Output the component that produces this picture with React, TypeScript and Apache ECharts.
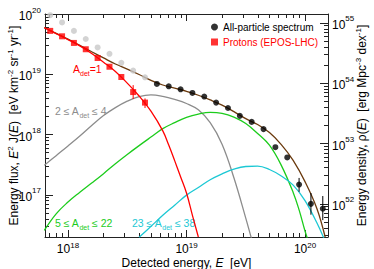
import React, { useEffect, useRef } from 'react';
import * as echarts from 'echarts';

const FONT = '"Liberation Sans", Arial, Helvetica, sans-serif';
const AX = '#222';

// ---- axis ranges (log10 values) ----
const X_MIN = 17.806;
const X_MAX = 20.194;
const Y_MIN = 16.3;
const Y_MAX = 20.0;
const R_MIN = 51.451;
const R_MAX = 55.149;

const xMajor = [18, 19, 20];
const yMajor = [17, 18, 19, 20];
const rMajor = [52, 53, 54, 55];

// ---- data: lg(E/eV) and lg(E^2 J / eV km^-2 sr^-1 yr^-1) ----
const allLgE = [18.75, 18.85, 18.95, 19.05, 19.15, 19.25, 19.35, 19.45, 19.55, 19.65, 19.75, 19.85, 19.95, 20.05, 20.15];
const allLgFlux = [18.84, 18.8, 18.75, 18.69, 18.63, 18.53, 18.44, 18.31, 18.21, 18.09, 17.79, 17.62, 17.17, 16.85, 16.77];
const allErrLgE = [19.95, 20.05, 20.15];
const allErrLo = [17.05, 16.67, 16.58];
const allErrHi = [17.28, 17.03, 16.98];

const lowLgE = [17.85, 17.95, 18.05, 18.15, 18.25, 18.35, 18.45, 18.55, 18.65];
const lowLgFlux = [19.98, 19.86, 19.72, 19.585, 19.445, 19.34, 19.19, 19.06, 18.95];

const protonLgE = [17.85, 17.95, 18.05, 18.15, 18.25, 18.35, 18.45, 18.55, 18.65];
const protonLgFlux = [19.72, 19.63, 19.52, 19.415, 19.27, 19.125, 18.955, 18.705, 18.53];
const protonErrLgE = [18.55, 18.65];
const protonErrLo = [18.59, 18.44];
const protonErrHi = [18.82, 18.6];

// fitted curves
const protonCurveLgE = [17.8, 17.9, 18.0, 18.1, 18.2, 18.3, 18.4, 18.5, 18.6, 18.7, 18.8, 18.85, 18.9, 18.95, 19.0, 19.05, 19.1];
const protonCurveLgFlux = [19.775, 19.675, 19.576, 19.471, 19.346, 19.201, 19.047, 18.853, 18.64, 18.387, 18.06, 17.825, 17.567, 17.3, 17.03, 16.66, 16.3];

const heCurveLgE = [17.8, 17.9, 18.0, 18.1, 18.2, 18.3, 18.4, 18.5, 18.6, 18.7, 18.8, 18.9, 19.0, 19.1, 19.2, 19.3, 19.4, 19.5, 19.55];
const heCurveLgFlux = [17.49, 17.65, 17.81, 17.975, 18.15, 18.315, 18.447, 18.554, 18.629, 18.657, 18.633, 18.583, 18.515, 18.41, 18.196, 17.84, 17.283, 16.614, 16.26];

const cnoCurveLgE = [17.8, 17.9, 18.0, 18.1, 18.2, 18.3, 18.4, 18.5, 18.6, 18.7, 18.8, 18.9, 19.0, 19.1, 19.2, 19.3, 19.4, 19.5, 19.6, 19.7, 19.8, 19.9, 19.95, 20.0, 20.03];
const cnoCurveLgFlux = [16.41, 16.685, 16.88, 17.042, 17.195, 17.351, 17.515, 17.669, 17.816, 17.958, 18.098, 18.198, 18.285, 18.34, 18.368, 18.352, 18.29, 18.183, 18.018, 17.823, 17.489, 17.04, 16.75, 16.4, 16.22];

const siCurveLgE = [18.6, 18.7, 18.8, 18.9, 19.0, 19.1, 19.2, 19.3, 19.4, 19.5, 19.6, 19.7, 19.8, 19.9, 20.0, 20.1, 20.17];
const siCurveLgFlux = [16.295, 16.476, 16.66, 16.827, 16.995, 17.122, 17.25, 17.347, 17.427, 17.47, 17.475, 17.42, 17.312, 17.161, 16.905, 16.535, 16.23];

const totalCurveLgE = [17.8, 17.9, 18.0, 18.1, 18.2, 18.3, 18.4, 18.5, 18.6, 18.7, 18.8, 18.9, 19.0, 19.1, 19.2, 19.3, 19.4, 19.5, 19.6, 19.7, 19.8, 19.9, 20.0, 20.1, 20.17];
const totalCurveLgFlux = [19.775, 19.679, 19.584, 19.48, 19.374, 19.271, 19.171, 19.086, 18.996, 18.899, 18.822, 18.77, 18.718, 18.652, 18.574, 18.487, 18.38, 18.264, 18.166, 18.032, 17.833, 17.572, 17.219, 16.774, 16.3];

const zip = (a: number[], b: number[]) => a.map((v, i) => [v, b[i]]);
const zip3 = (a: number[], b: number[], c: number[]) => a.map((v, i) => [v, b[i], c[i]]);

function minorTicks(lo: number, hi: number): number[] {
  const out: number[] = [];
  for (let n = Math.floor(lo); n <= Math.ceil(hi); n++) {
    for (let k = 2; k <= 9; k++) {
      const v = n + Math.log10(k);
      if (v > lo && v < hi) out.push(v);
    }
  }
  return out;
}

const supRichY = {
  b: { fontSize: 12, lineHeight: 16, verticalAlign: 'bottom', fontFamily: FONT, color: '#000' },
  s: { fontSize: 8, lineHeight: 8, verticalAlign: 'top', fontFamily: FONT, color: '#000' },
};
const supRichX = {
  b: { fontSize: 12, lineHeight: 14, verticalAlign: 'bottom', fontFamily: FONT, color: '#000' },
  s: { fontSize: 8, lineHeight: 8, verticalAlign: 'top', fontFamily: FONT, color: '#000' },
};
const pow = (v: number) => `{b|10}{s|${Math.round(v)}}`;

const nameRich = {
  n: { fontSize: 12, lineHeight: 14, verticalAlign: 'bottom', fontFamily: FONT, color: '#000' },
  i: { fontSize: 12, lineHeight: 14, verticalAlign: 'bottom', fontFamily: FONT, fontStyle: 'italic', color: '#000' },
  s: { fontSize: 8, lineHeight: 8, verticalAlign: 'top', fontFamily: FONT, color: '#000' },
};

function mkX(gridIndex: number, position: string, ticks: number[], len: number, labels: number[] | null, extra: any = {}) {
  return {
    type: 'value', gridIndex, position, min: X_MIN, max: X_MAX,
    axisLine: { show: true, lineStyle: { color: AX, width: 1 } },
    axisTick: { show: true, inside: true, length: len, customValues: ticks, lineStyle: { color: AX, width: 1 } },
    axisLabel: labels ? { show: true, customValues: labels, formatter: pow, rich: supRichX, margin: 4 } : { show: false },
    splitLine: { show: false },
    ...extra,
  };
}
function mkY(gridIndex: number, position: string, min: number, max: number, ticks: number[], len: number, labels: number[] | null, extra: any = {}) {
  return {
    type: 'value', gridIndex, position, min, max,
    axisLine: { show: true, lineStyle: { color: AX, width: 1 } },
    axisTick: { show: true, inside: true, length: len, customValues: ticks, lineStyle: { color: AX, width: 1 } },
    axisLabel: labels ? { show: true, customValues: labels, formatter: pow, rich: supRichY, margin: 4 } : { show: false },
    splitLine: { show: false },
    ...extra,
  };
}

const RED = '#ff0000';
const GRAY = '#8c8c8c';
const GREEN = '#1ccc1c';
const CYAN = '#1cc8d4';
const BROWN = '#6b3a0e';

function labelRich(color: string) {
  return {
    a: { fontSize: 10.5, lineHeight: 14, verticalAlign: 'top', fontFamily: FONT, fill: color },
    d: { fontSize: 7, lineHeight: 6, verticalAlign: 'bottom', fontFamily: FONT, fill: color },
  };
}

export default function App() {
  const ref = useRef<HTMLDivElement>(null);
  useEffect(() => {
    document.body.style.margin = '0';
    const chart = echarts.init(ref.current!, undefined, { renderer: 'svg' });
    const grid = { left: 45, right: 46, top: 14, bottom: 32, containLabel: false, outerBoundsMode: 'none' };
    const line = (data: number[][], color: string, z = 2) => ({
      type: 'line', data, xAxisIndex: 0, yAxisIndex: 0, smooth: 0.4, symbol: 'none', showSymbol: false,
      lineStyle: { color, width: 1.3 }, z, silent: true, clip: true,
    });
    const errBars = (data: number[][], color: string) => ({
      type: 'custom', xAxisIndex: 0, yAxisIndex: 0, data, z: 4, silent: true,
      encode: { x: 0, y: [1, 2] },
      renderItem: (_p: any, api: any) => {
        const a = api.coord([api.value(0), api.value(1)]);
        const b = api.coord([api.value(0), api.value(2)]);
        return { type: 'line', shape: { x1: a[0], y1: a[1], x2: b[0], y2: b[1] }, style: { stroke: color, lineWidth: 1 } };
      },
    });
    chart.setOption({
      animation: false,
      textStyle: { fontFamily: FONT },
      grid: [grid, grid, grid, grid],
      xAxis: [
        mkX(0, 'bottom', xMajor, 7, xMajor, {
          name: '{n|Detected energy, }{i|E}{n|  [eV]}', nameLocation: 'middle', nameGap: 18, nameMoveOverlap: false,
          nameTextStyle: { rich: nameRich },
        }),
        mkX(1, 'top', xMajor, 7, null),
        mkX(2, 'bottom', minorTicks(X_MIN, X_MAX), 4, null, { axisLine: { show: false } }),
        mkX(3, 'top', minorTicks(X_MIN, X_MAX), 4, null, { axisLine: { show: false } }),
      ],
      yAxis: [
        mkY(0, 'left', Y_MIN, Y_MAX, yMajor, 8, yMajor, {
          name: '{n|Energy flux, }{i|E}{s|2}{n| J(}{i|E}{n|)  [eV km}{s|-2}{n| sr}{s|-1}{n| yr}{s|-1}{n|]}',
          nameLocation: 'middle', nameGap: 25, nameRotate: 90, nameMoveOverlap: false,
          nameTextStyle: { rich: nameRich },
        }),
        mkY(1, 'right', R_MIN, R_MAX, rMajor, 8, rMajor, {
          name: '{n|Energy density, ρ(}{i|E}{n|)  [erg Mpc}{s|-3}{n| dex}{s|-1}{n|]}',
          nameLocation: 'middle', nameGap: 26, nameRotate: 90, nameMoveOverlap: false,
          nameTextStyle: { rich: nameRich },
        }),
        mkY(2, 'left', Y_MIN, Y_MAX, minorTicks(Y_MIN, Y_MAX), 4, null, { axisLine: { show: false } }),
        mkY(3, 'right', R_MIN, R_MAX, minorTicks(R_MIN, R_MAX), 4, null, { axisLine: { show: false } }),
      ],
      legend: {
        orient: 'vertical', left: 211, top: 21, padding: 0, itemWidth: 7, itemHeight: 7, itemGap: 3,
        textStyle: { fontSize: 10, fontFamily: FONT, lineHeight: 12, color: '#000' },
        data: [
          { name: 'All-particle spectrum', icon: 'circle' },
          { name: 'Protons (EPOS-LHC)', icon: 'rect', textStyle: { color: RED } },
        ],
        selectedMode: false,
      },
      graphic: [
        { type: 'text', left: 73, top: 63, silent: true, style: { text: '{a|A}{d|det}{a|=1}', rich: labelRich(RED) } },
        { type: 'text', left: 55, top: 105, silent: true, style: { text: '{a|2 ≤ A}{d|det}{a| ≤ 4}', rich: labelRich(GRAY) } },
        { type: 'text', left: 55, top: 217, silent: true, style: { text: '{a|5 ≤ A}{d|det}{a| ≤ 22}', rich: labelRich(GREEN) } },
        { type: 'text', left: 132, top: 217, silent: true, style: { text: '{a|23 ≤ A}{d|det}{a| ≤ 38}', rich: labelRich(CYAN) } },
      ],
      series: [
        line(zip(heCurveLgE, heCurveLgFlux), GRAY),
        line(zip(cnoCurveLgE, cnoCurveLgFlux), GREEN),
        line(zip(siCurveLgE, siCurveLgFlux), CYAN),
        line(zip(totalCurveLgE, totalCurveLgFlux), BROWN),
        line(zip(protonCurveLgE, protonCurveLgFlux), RED, 3),
        {
          type: 'scatter', name: 'below threshold', xAxisIndex: 0, yAxisIndex: 0, data: zip(lowLgE, lowLgFlux),
          symbol: 'circle', symbolSize: 6, itemStyle: { color: '#c8c8c8' }, z: 3, silent: true,
        },
        errBars(zip3(allErrLgE, allErrLo, allErrHi), '#000'),
        {
          type: 'scatter', name: 'All-particle spectrum', xAxisIndex: 0, yAxisIndex: 0, data: zip(allLgE, allLgFlux),
          symbol: 'circle', symbolSize: 6, itemStyle: { color: '#000' }, z: 5, silent: true,
        },
        errBars(zip3(protonErrLgE, protonErrLo, protonErrHi), RED),
        {
          type: 'scatter', name: 'Protons (EPOS-LHC)', xAxisIndex: 0, yAxisIndex: 0, data: zip(protonLgE, protonLgFlux),
          symbol: 'rect', symbolSize: 6, itemStyle: { color: RED }, z: 5, silent: true,
        },
      ],
    });
    return () => chart.dispose();
  }, []);
  return <div ref={ref} style={{ width: 374, height: 269 }} />;
}
